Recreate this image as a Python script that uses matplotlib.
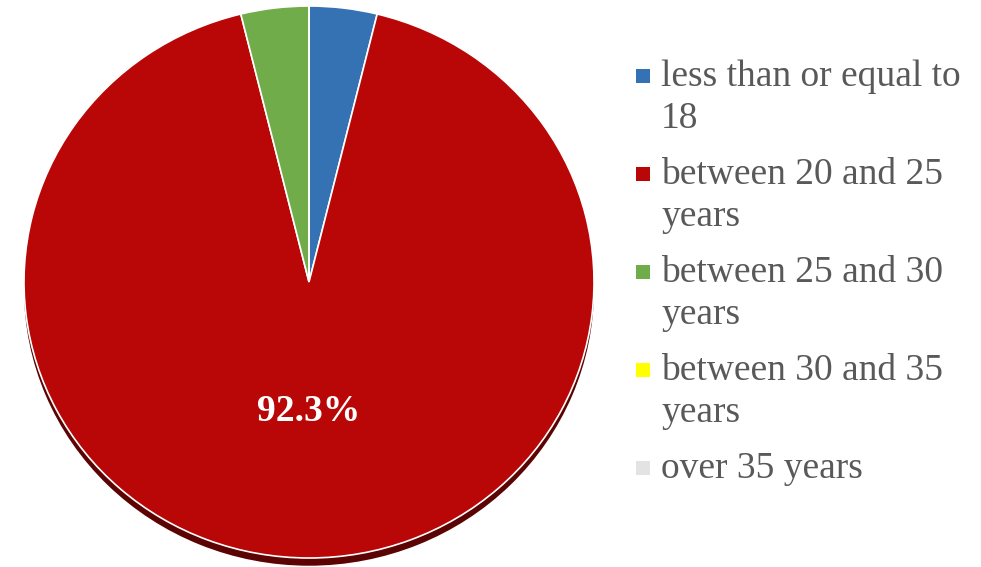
import matplotlib.pyplot as plt
from matplotlib.patches import Rectangle

labels = ['less than or equal to\n18', 'between 20 and 25\nyears', 'between 25 and 30\nyears',
          'between 30 and 35\nyears', 'over 35 years']
counts = [1, 24, 1, 0, 0]
colors = ['#3572B3', '#B90707', '#71AC4B', '#FFFF00', '#E3E3E3']

plt.rcParams['font.family'] = ['Liberation Serif', 'DejaVu Serif']

W, H = 981, 567
fig = plt.figure(figsize=(W / 100, H / 100), dpi=100)

# pie face: ellipse spanning x 24..594, y 6..558 (pixels from top-left)
ax = fig.add_axes([24 / W, (H - 558) / H, 570 / W, 552 / H])

# dark rim below the face
ax.pie([1], colors=['#5C0303'], radius=1.0, center=(0.0, -0.028),
       wedgeprops=dict(linewidth=0))
ax.pie(counts, colors=colors, startangle=90, counterclock=False, radius=1.0,
       autopct=lambda p: f'{p:.1f}%' if p > 50 else '', pctdistance=0.47,
       wedgeprops=dict(edgecolor='white', linewidth=1.2),
       textprops=dict(color='white', fontsize=27, fontweight='bold'))
ax.set_aspect('auto')
ax.set_xlim(-1, 1)
ax.set_ylim(-1, 1)
ax.axis('off')

# legend on the right, drawn in pixel coordinates
lax = fig.add_axes([0, 0, 1, 1])
lax.set_xlim(0, W)
lax.set_ylim(H, 0)
lax.axis('off')
tops = [60, 158, 256, 354, 452]
for lab, col, top in zip(labels, colors, tops):
    lax.add_patch(Rectangle((636, top + 9), 14, 14, facecolor=col, edgecolor='none'))
    lax.text(661, top, lab, color='#595959', fontsize=27, va='top', ha='left',
             linespacing=1.25)

fig.savefig('out.png', dpi=100)
